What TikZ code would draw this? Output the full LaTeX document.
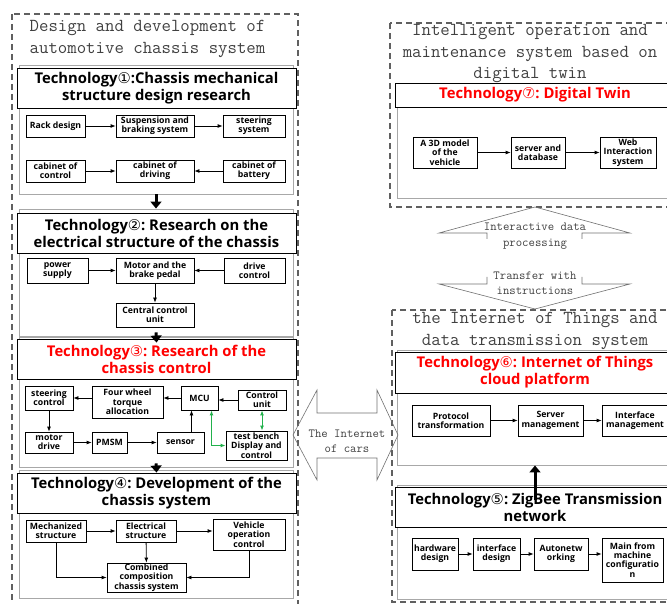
\documentclass[tikz,border=0pt]{standalone}
\usepackage{fontspec}
\setsansfont{Open Sans}
\newfontfamily\circfont{DejaVu Sans}
\definecolor{Dashcol}{HTML}{606060}
\definecolor{Titlecol}{HTML}{404040}
\definecolor{Secol}{HTML}{A8A8A8}
\definecolor{Redcol}{HTML}{FF0000}
\definecolor{Linkcol}{HTML}{22B14C}
\definecolor{Shapecol}{HTML}{707070}
\usetikzlibrary{calc, arrows.meta}
\newcommand{\cnum}[1]{{\circfont\mdseries #1}}
\tikzset{
    >=Latex,
    font=\sffamily,
    outer/.style={draw=Dashcol, dash pattern=on 6pt off 4pt, line width=1.1pt},
    sect/.style={draw=Secol, line width=0.9pt, inner sep=0pt},
    head/.style={draw, fill=white, line width=0.9pt, align=center, inner sep=0pt,
        font=\sffamily\bfseries\fontsize{14.8}{17}\selectfont},
    box/.style={draw, fill=white, line width=0.8pt, align=center, inner sep=0pt,
        font=\sffamily\bfseries\fontsize{8.7}{9.3}\selectfont},
    arr/.style={-{Latex[length=5pt,width=4pt]}, line width=0.8pt},
    garr/.style={{Latex[length=5pt,width=4pt]}-{Latex[length=5pt,width=4pt]}, Linkcol, line width=1pt},
    bigarr/.style={-{Triangle[length=7pt,width=11pt]}, line width=3pt},
    ttl/.style={text=Titlecol, align=center, font=\ttfamily\fontsize{18.3}{21.5}\selectfont},
    note/.style={text=Titlecol, align=center, font=\ttfamily\fontsize{12.4}{15.5}\selectfont}
}

\begin{document}
\begin{tikzpicture}[x=1pt, y=-1pt]
    \useasboundingbox (0,0) rectangle (667,604);
    \clip (0,0) rectangle (667,604);

    % Outer systems
    \draw[outer] (12,14) rectangle (298,612);
    \draw[outer] (390,23) rectangle (672,207);
    \draw[outer] (392,310) rectangle (672,602);
    \node[ttl] (t1) at (147.5,39) {Design and development of\\automotive chassis system};
    \node[ttl] (t2) at (530,54) {Intelligent operation and\\maintenance system based on\\digital twin};
    \node[ttl] (t3) at (535,331) {the Internet of Things and\\data transmission system};

    % Tech 1
    \node[sect, minimum width=274, minimum height=129] (s1) at (156,129.5) {};
    \node[head, minimum width=279, minimum height=40] (h1) at (156.5,88)
        {Technology\cnum{①}:Chassis mechanical\\structure design research};
    \node[box, minimum width=59, minimum height=22] (rack) at (55.5,126) {Rack design};
    \node[box, minimum width=78, minimum height=22] (susp) at (155,126) {Suspension and\\braking system};
    \node[box, minimum width=62, minimum height=22] (steer) at (254,126) {steering\\system};
    \node[box, minimum width=59, minimum height=22] (cctl) at (55.5,171) {cabinet of\\control};
    \node[box, minimum width=78, minimum height=22] (cdrv) at (155,171) {cabinet of\\driving};
    \node[box, minimum width=62, minimum height=22] (cbat) at (254,171) {cabinet of\\battery};
    \draw[arr] (rack) -- (susp);
    \draw[arr] (susp) -- (steer);
    \draw[arr] (cctl) -- (cdrv);
    \draw[arr] (cbat) -- (cdrv);

    % Tech 2
    \node[sect, minimum width=274, minimum height=128] (s2) at (156,273) {};
    \node[head, minimum width=279, minimum height=40] (h2) at (156.5,233)
        {Technology\cnum{②}:\ Research on the\\electrical structure of the chassis};
    \node[box, minimum width=61, minimum height=25] (power) at (57.5,270.5) {power\\supply};
    \node[box, minimum width=78, minimum height=25] (motor) at (155,270.5) {Motor and the\\brake pedal};
    \node[box, minimum width=61, minimum height=25] (drive) at (254.5,270.5) {drive\\control};
    \node[box, minimum width=78, minimum height=24] (ccu) at (155,315) {Central control\\unit};
    \draw[arr] (power) -- (motor);
    \draw[arr] (drive) -- (motor);
    \draw[arr] (motor) -- (ccu);
    \draw[bigarr] (s1.south) -- (s2.north);

    % Tech 3
    \node[sect, minimum width=274, minimum height=131] (s3) at (156,401.5) {};
    \node[head, text=Redcol, minimum width=279, minimum height=40] (h3) at (156.5,359)
        {Technology\cnum{③}:\ Research of the\\chassis control};
    \node[box, minimum width=48, minimum height=24] (sctl) at (49,398) {steering\\control};
    \node[box, minimum width=71, minimum height=32] (fwta) at (127.5,402) {Four wheel\\torque\\allocation};
    \node[box, minimum width=37, minimum height=24] (mcu) at (199.5,398) {MCU};
    \node[box, minimum width=48, minimum height=20] (cu) at (262,400) {Control\\unit};
    \node[box, minimum width=48, minimum height=21] (mdrv) at (49,442.5) {motor\\drive};
    \node[box, minimum width=35, minimum height=21] (pmsm) at (109.5,442.5) {PMSM};
    \node[box, minimum width=47, minimum height=21] (sensor) at (180.5,442.5) {sensor};
    \node[box, minimum width=61, minimum height=29] (tb) at (256.5,445.5) {test bench\\Display and\\control};
    \draw[arr] (cu.west) -- (cu.west -| mcu.east);
    \draw[arr] (mcu.west) -- (mcu.west -| fwta.east);
    \draw[arr] (fwta.west |- sctl.east) -- (sctl.east);
    \draw[arr] (sctl) -- (mdrv);
    \draw[arr] (mdrv) -- (pmsm);
    \draw[arr] (pmsm) -- (sensor);
    \draw[arr] ([xshift=11pt]sensor.north) -- ([xshift=11pt]sensor.north |- mcu.south);
    \draw[garr] ([xshift=12pt]mcu.south) |- (tb.west);
    \draw[garr] (cu.south) -- (cu.south |- tb.north);
    \draw[bigarr] ($(s2.south)+(0,-5)$) -- ($(h3.north)+(0,4)$);

    % Tech 4
    \node[sect, minimum width=274, minimum height=128] (s4) at (156,534) {};
    \node[head, minimum width=279, minimum height=40] (h4) at (156.5,493)
        {Technology\cnum{④}:\ Development of the\\chassis system};
    \node[box, minimum width=60, minimum height=22] (mech) at (56,531) {Mechanized\\structure};
    \node[box, minimum width=60, minimum height=22] (elec) at (146,531) {Electrical\\structure};
    \node[box, minimum width=72, minimum height=31] (veh) at (249,534.5) {Vehicle\\operation\\control};
    \node[box, minimum width=79, minimum height=29] (comb) at (146.5,577.5) {Combined\\composition\\chassis system};
    \draw[arr] (mech) -- (elec);
    \draw[arr] (elec.east) -- (elec.east -| veh.west);
    \draw[arr] (elec) -- (comb);
    \draw[arr] (mech.south) |- (comb.west);
    \draw[arr] (veh.south) |- (comb.east);
    \draw[bigarr] ($(s3.south)+(0,-4)$) -- (h4.north);

    % Tech 7
    \node[sect, minimum width=275, minimum height=115] (s7) at (534.5,140.5) {};
    \node[head, text=Redcol, minimum width=280, minimum height=24] (h7) at (535,95)
        {Technology\cnum{⑦}:\ Digital Twin};
    \node[box, minimum width=64, minimum height=31] (m3d) at (445,152.5) {A 3D model\\of the\\vehicle};
    \node[box, minimum width=54, minimum height=31] (srv) at (538,152.5) {server and\\database};
    \node[box, minimum width=56, minimum height=31] (web) at (628,152.5) {Web\\Interaction\\system};
    \draw[arr] (m3d) -- (srv);
    \draw[arr] (srv) -- (web);

    % Exchange between the two right systems
    \draw[Shapecol, line width=0.6pt] (487,239) -- (487,233) -- (439,233) -- (535,207)
        -- (630,233) -- (582,233) -- (582,239);
    \draw[Shapecol, line width=0.6pt] (487,277) -- (487,284) -- (439,284) -- (535,309)
        -- (630,284) -- (582,284) -- (582,277);
    \node[note] (n1) at (535,236) {Interactive data\\processing};
    \node[note] (n2) at (535,283) {Transfer with\\instructions};

    % Tech 6
    \node[sect, minimum width=275, minimum height=115] (s6) at (534.5,407.5) {};
    \node[head, text=Redcol, minimum width=280, minimum height=41] (h6) at (535,372.5)
        {Technology\cnum{⑥}:\ Internet of Things\\cloud platform};
    \node[box, minimum width=78, minimum height=31] (prot) at (451,420.5) {Protocol\\transformation};
    \node[box, minimum width=65, minimum height=31] (smgmt) at (550.5,420.5) {Server\\management};
    \node[box, minimum width=66, minimum height=31] (imgmt) at (635,420.5) {Interface\\management};
    \draw[arr] (prot) -- (smgmt);
    \draw[arr] (smgmt) -- (imgmt);

    % Tech 5
    \node[sect, minimum width=275, minimum height=114] (s5) at (534.5,542) {};
    \node[head, minimum width=280, minimum height=40] (h5) at (535,507)
        {Technology\cnum{⑤}:\ ZigBee Transmission\\network};
    \node[box, minimum width=46, minimum height=32] (hw) at (435,554) {hardware\\design};
    \node[box, minimum width=47, minimum height=32] (ifd) at (496.5,554) {interface\\design};
    \node[box, minimum width=54, minimum height=32] (autonet) at (561,554) {Autonetw\\orking};
    \node[box, minimum width=61, minimum height=44] (mainm) at (632.5,560) {Main from\\machine\\configuratio\\n};
    \draw[arr] (hw) -- (ifd);
    \draw[arr] (ifd) -- (autonet);
    \draw[arr] (autonet.east) -- (autonet.east -| mainm.west);
    \coordinate (up5) at (535,500);
    \draw[bigarr] (up5) -- (up5 |- s6.south);

    % The Internet of cars
    \draw[Shapecol, line width=0.6pt] (293,435) -- (317,390) -- (317,413) -- (377,413)
        -- (377,390) -- (398,435) -- (377,480) -- (377,458) -- (317,458) -- (317,480) -- cycle;
    \node[note] (n3) at (347,441) {The Internet\\of cars};
\end{tikzpicture}
\end{document}
